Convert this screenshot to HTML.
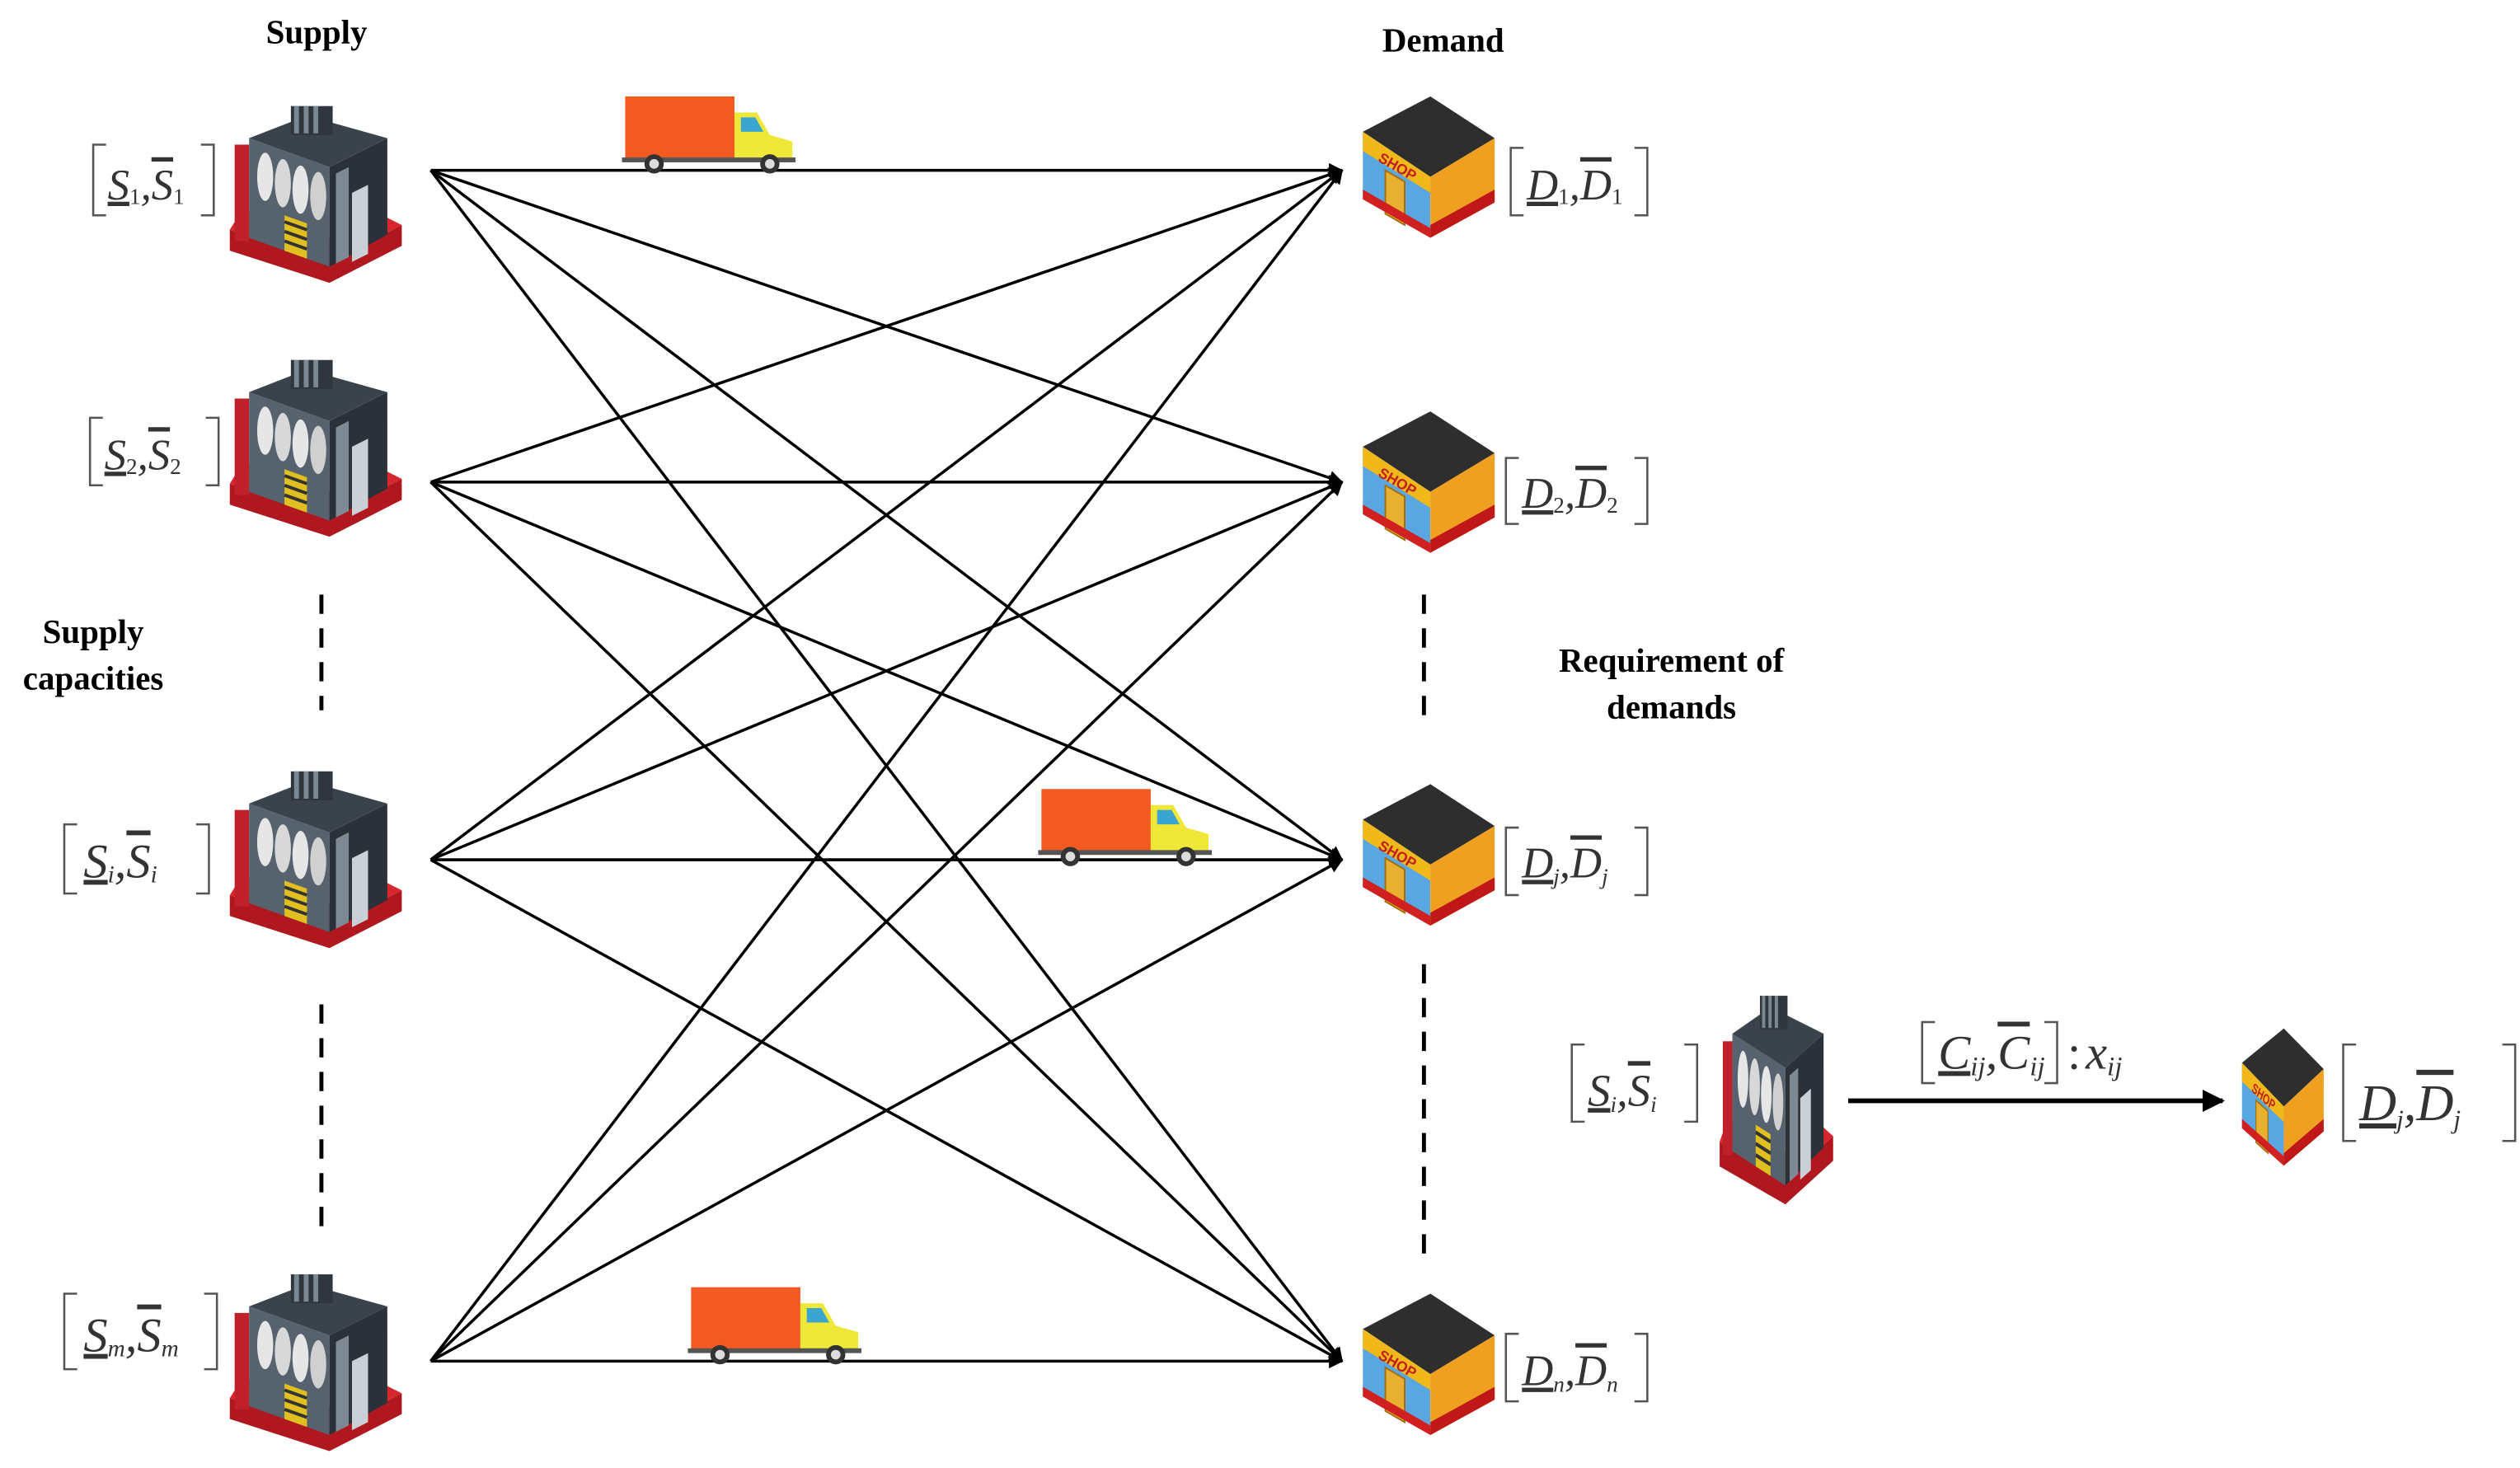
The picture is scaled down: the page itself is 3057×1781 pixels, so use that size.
<!DOCTYPE html>
<html><head><meta charset="utf-8"><style>html,body{margin:0;padding:0;background:#fff}svg{display:block}</style></head>
<body>
<svg width="3057" height="1781" viewBox="0 0 1568 913.5" preserveAspectRatio="none" xmlns="http://www.w3.org/2000/svg">
<defs>
<marker id="ah" viewBox="0 0 10 10" refX="9" refY="5" markerWidth="9" markerHeight="9" markerUnits="userSpaceOnUse" orient="auto"><path d="M0,0 L10,5 L0,10 z" fill="#000"/></marker>
<marker id="ah2" viewBox="0 0 10 10" refX="9" refY="5" markerWidth="14" markerHeight="14" markerUnits="userSpaceOnUse" orient="auto"><path d="M0,0 L10,5 L0,10 z" fill="#000"/></marker>
<g id="fac">
  <path d="M0,75 L0,88 L62,108 L107,85 L107,72 L62,95 Z" fill="#b01820"/>
  <path d="M0,75 L62,95 L107,72 L95,66 L62,80 L8,62 Z" fill="#d8262e"/>
  <rect x="3" y="22" width="9" height="60" fill="#c0202a"/>
  <path d="M12,18 L62,36 L62,98 L12,80 Z" fill="#56626e"/>
  <path d="M62,36 L98,18 L98,78 L62,98 Z" fill="#2a3138"/>
  <path d="M12,18 L48,4 L98,18 L62,36 Z" fill="#3a434c"/>
  <rect x="38" y="-2" width="26" height="18" fill="#2f363d"/>
  <rect x="40" y="-2" width="3" height="17" fill="#7a8894"/><rect x="46" y="-2" width="3" height="17" fill="#7a8894"/><rect x="52" y="-2" width="3" height="17" fill="#7a8894"/>
  <ellipse cx="22" cy="42" rx="5" ry="15" fill="#e6e6e6"/><ellipse cx="33" cy="46" rx="5" ry="15" fill="#d8d8d8"/><ellipse cx="44" cy="50" rx="5" ry="15" fill="#e6e6e6"/><ellipse cx="55" cy="54" rx="5" ry="15" fill="#d0d0d0"/>
  <path d="M34,66 L48,71 L48,93 L34,88 Z" fill="#e0c020"/>
  <path d="M34,70 L48,75 M34,76 L48,81 M34,82 L48,87" stroke="#333" stroke-width="2"/>
  <path d="M76,52 L86,47 L86,90 L76,95 Z" fill="#c9d0d6"/>
  <path d="M66,40 L74,36 L74,92 L66,96 Z" fill="#7d8a96"/>
</g>
<g id="shop">
  <path d="M0,22 L42,0 L82,26 L42,50 Z" fill="#2e2e2e"/>
  <path d="M0,22 L42,50 L42,88 L0,64 Z" fill="#5aa6e0"/>
  <path d="M0,22 L42,50 L42,60 L0,34 Z" fill="#f0b818"/>
  <text x="9" y="40" font-family="Liberation Sans" font-weight="bold" font-size="9" fill="#c02020" transform="rotate(30 9 40)">SHOP</text>
  <path d="M14,46 L26,53 L26,80 L14,73 Z" fill="#e8b030" stroke="#a07010" stroke-width="1"/>
  <path d="M0,58 L42,82 L42,88 L0,64 Z" fill="#d02020"/>
  <path d="M42,50 L82,26 L82,66 L42,88 Z" fill="#f0a020"/>
  <path d="M42,80 L82,58 L82,66 L42,88 Z" fill="#c01818"/>
</g>
<g id="truck">
  <rect x="2" y="0" width="68" height="40" fill="#f25a22"/>
  <path d="M70,10 L84,10 L92,24 L106,28 L106,40 L70,40 Z" fill="#f0e838"/>
  <path d="M74,13 L83,13 L88,22 L74,22 Z" fill="#3aa6d0"/>
  <rect x="0" y="38" width="108" height="3" fill="#555"/>
  <circle cx="20" cy="42" r="6" fill="#333"/><circle cx="20" cy="42" r="3" fill="#ddd"/>
  <circle cx="92" cy="42" r="6" fill="#333"/><circle cx="92" cy="42" r="3" fill="#ddd"/>
</g>
</defs>

<g font-family="Liberation Serif" font-weight="bold" font-size="21" fill="#000" text-anchor="middle">
<text x="197" y="27">Supply</text>
<text x="898" y="32">Demand</text>
<text x="58" y="400">Supply</text>
<text x="58" y="429">capacities</text>
<text x="1040" y="418">Requirement of</text>
<text x="1040" y="447">demands</text>
</g>

<g stroke="#000" stroke-width="1.8" fill="none" marker-end="url(#ah)">
<line x1="268" y1="106" x2="835" y2="106"/><line x1="268" y1="106" x2="835" y2="300"/><line x1="268" y1="106" x2="835" y2="535"/><line x1="268" y1="106" x2="835" y2="847"/>
<line x1="268" y1="300" x2="835" y2="106"/><line x1="268" y1="300" x2="835" y2="300"/><line x1="268" y1="300" x2="835" y2="535"/><line x1="268" y1="300" x2="835" y2="847"/>
<line x1="268" y1="535" x2="835" y2="106"/><line x1="268" y1="535" x2="835" y2="300"/><line x1="268" y1="535" x2="835" y2="535"/><line x1="268" y1="535" x2="835" y2="847"/>
<line x1="268" y1="847" x2="835" y2="106"/><line x1="268" y1="847" x2="835" y2="300"/><line x1="268" y1="847" x2="835" y2="535"/><line x1="268" y1="847" x2="835" y2="847"/>
</g>
<g stroke="#000" stroke-width="2.5" stroke-dasharray="12,9">
<line x1="200" y1="370" x2="200" y2="442"/><line x1="200" y1="625" x2="200" y2="765"/>
<line x1="886" y1="370" x2="886" y2="452"/><line x1="886" y1="600" x2="886" y2="787"/>
</g>

<use href="#fac" x="143" y="68"/>
<use href="#fac" x="143" y="226"/>
<use href="#fac" x="143" y="482"/>
<use href="#fac" x="143" y="795"/>
<use href="#shop" x="848" y="60"/>
<use href="#shop" x="848" y="256"/>
<use href="#shop" x="848" y="488"/>
<use href="#shop" x="848" y="805"/>
<use href="#truck" x="387" y="60"/>
<use href="#truck" x="646" y="491"/>
<use href="#truck" x="428" y="801"/>

<g transform="translate(1070,622) scale(0.66,1.18)"><use href="#fac" x="0" y="0"/></g>
<g transform="translate(1395,640) scale(0.62,0.97)"><use href="#shop" x="0" y="0"/></g>
<line x1="1150" y1="685" x2="1383" y2="685" stroke="#000" stroke-width="3" marker-end="url(#ah2)"/>

<g stroke="#555" stroke-width="1.3" fill="none">
<path d="M66,90 H58 V134 H66 M125,90 H133 V134 H125"/>
<path d="M64,260 H56 V302 H64 M128,260 H136 V302 H128"/>
<path d="M48,513 H40 V556 H48 M122,513 H130 V556 H122"/>
<path d="M48,805 H40 V852 H48 M127,805 H135 V852 H127"/>
<path d="M948,92 H940 V134 H948 M1017,92 H1025 V134 H1017"/>
<path d="M945,285 H937 V326 H945 M1017,285 H1025 V326 H1017"/>
<path d="M945,515 H937 V557 H945 M1017,515 H1025 V557 H1017"/>
<path d="M945,830 H937 V872 H945 M1017,830 H1025 V872 H1017"/>
<path d="M986,650 H978 V698 H986 M1048,650 H1056 V698 H1048"/>
<path d="M1466,650 H1458 V710 H1466 M1557,650 H1565 V710 H1557"/>
<path d="M1204,636 H1196 V674 H1204 M1272,636 H1280 V674 H1272"/>
</g>

<g font-family="Liberation Serif" font-style="italic" font-size="27" fill="#333">
<text x="67" y="124"><tspan text-decoration="underline">S</tspan><tspan font-size="14" font-style="normal" dy="3">1</tspan><tspan dy="-3">,</tspan><tspan text-decoration="overline">S</tspan><tspan font-size="14" font-style="normal" dy="3">1</tspan></text>
<text x="65" y="292"><tspan text-decoration="underline">S</tspan><tspan font-size="14" font-style="normal" dy="3">2</tspan><tspan dy="-3">,</tspan><tspan text-decoration="overline">S</tspan><tspan font-size="14" font-style="normal" dy="3">2</tspan></text>
<text x="52" y="546" font-size="30"><tspan text-decoration="underline">S</tspan><tspan font-size="15" dy="3">i</tspan><tspan dy="-3">,</tspan><tspan text-decoration="overline">S</tspan><tspan font-size="15" dy="3">i</tspan></text>
<text x="52" y="841" font-size="30"><tspan text-decoration="underline">S</tspan><tspan font-size="15" dy="3">m</tspan><tspan dy="-3">,</tspan><tspan text-decoration="overline">S</tspan><tspan font-size="15" dy="3">m</tspan></text>
<text x="950" y="124"><tspan text-decoration="underline">D</tspan><tspan font-size="14" font-style="normal" dy="3">1</tspan><tspan dy="-3">,</tspan><tspan text-decoration="overline">D</tspan><tspan font-size="14" font-style="normal" dy="3">1</tspan></text>
<text x="947" y="316"><tspan text-decoration="underline">D</tspan><tspan font-size="14" font-style="normal" dy="3">2</tspan><tspan dy="-3">,</tspan><tspan text-decoration="overline">D</tspan><tspan font-size="14" font-style="normal" dy="3">2</tspan></text>
<text x="947" y="546"><tspan text-decoration="underline">D</tspan><tspan font-size="14" dy="4">j</tspan><tspan dy="-4">,</tspan><tspan text-decoration="overline">D</tspan><tspan font-size="14" dy="4">j</tspan></text>
<text x="947" y="862"><tspan text-decoration="underline">D</tspan><tspan font-size="14" dy="4">n</tspan><tspan dy="-4">,</tspan><tspan text-decoration="overline">D</tspan><tspan font-size="14" dy="4">n</tspan></text>
<text x="988" y="688" font-size="28"><tspan text-decoration="underline">S</tspan><tspan font-size="14" dy="4">i</tspan><tspan dy="-4">,</tspan><tspan text-decoration="overline">S</tspan><tspan font-size="14" dy="4">i</tspan></text>
<text x="1468" y="697" font-size="32"><tspan text-decoration="underline">D</tspan><tspan font-size="16" dy="5">j</tspan><tspan dy="-5">,</tspan><tspan text-decoration="overline">D</tspan><tspan font-size="16" dy="5">j</tspan></text>
<text x="1206" y="665" font-size="30"><tspan text-decoration="underline">C</tspan><tspan font-size="17" dy="4">ij</tspan><tspan dy="-4">,</tspan><tspan text-decoration="overline">C</tspan><tspan font-size="17" dy="4">ij</tspan><tspan dy="-4" dx="14" font-style="normal">:</tspan><tspan dx="3">x</tspan><tspan font-size="17" dy="4">ij</tspan></text>
</g>
</svg>
</body></html>
